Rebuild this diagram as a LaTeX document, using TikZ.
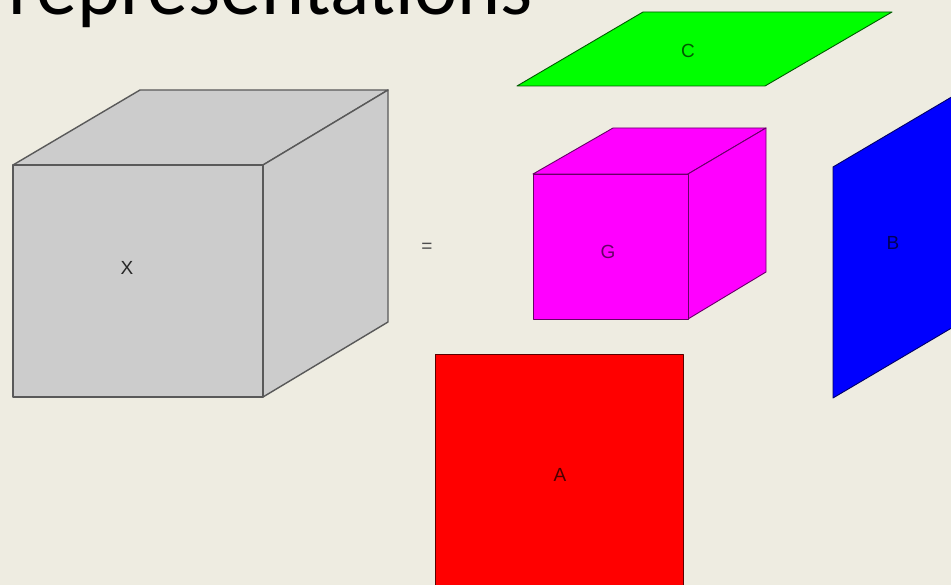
\documentclass[tikz,border=0pt]{standalone}
\usepackage{fontspec}
\setmainfont{Liberation Sans}
\newfontfamily\titlefont{Carlito}
\usetikzlibrary{positioning}

\definecolor{slidebg}{RGB}{238,236,225}
\definecolor{cubegray}{RGB}{204,204,204}
\definecolor{coremag}{RGB}{255,0,255}
\definecolor{factgreen}{RGB}{0,255,0}
\definecolor{factblue}{RGB}{0,0,255}
\definecolor{factred}{RGB}{255,0,0}

\begin{document}
\begin{tikzpicture}[x=1pt, y=-1pt,
    face/.style={line width=1.4pt, line join=round},
    letter/.style={font=\fontsize{19}{22}\selectfont, inner sep=0pt}]
    \fill[slidebg] (0,0) rectangle (951,585);
    \useasboundingbox (0,0) rectangle (951,585);
    \clip (0,0) rectangle (951,585);

    % title, cut at the top edge
    \node [anchor=base east, inner sep=0pt, font=\titlefont\fontsize{82}{90}\selectfont] (title) at (533,15) {representations};

    % tensor X
    \filldraw [face, fill=cubegray, draw=black!65] (13,165) -- (140,90) -- (388,90) -- (263,165) -- cycle;
    \filldraw [face, fill=cubegray, draw=black!65] (263,165) -- (388,90) -- (388,322) -- (263,397) -- cycle;
    \filldraw [face, fill=cubegray, draw=black!65] (13,165) rectangle (263,397);
    \node [letter, text=black!85] (X) at (127,268) {X};

    \node [letter, text=black!70] (eq) at (427,248) {=};

    % core tensor G
    \filldraw [face, fill=coremag, draw=coremag!40!black, line width=0.9pt] (533,174) -- (613,128) -- (766,128) -- (688,174) -- cycle;
    \filldraw [face, fill=coremag, draw=coremag!40!black, line width=0.9pt] (688,174) -- (766,128) -- (766,272) -- (688,319) -- cycle;
    \filldraw [face, fill=coremag, draw=coremag!40!black, line width=0.9pt] (533,174) rectangle (688,319);
    \node [letter, text=coremag!40!black] (G) at (608,252) {G};

    % factor C
    \filldraw [face, fill=factgreen, draw=factgreen!35!black, line width=0.9pt] (517,86) -- (765,86) -- (892,12) -- (643,12) -- cycle;
    \node [letter, text=factgreen!35!black] (C) at (688,51) {C};

    % factor B
    \filldraw [face, fill=factblue, draw=factblue!40!black, line width=0.9pt] (833,167) -- (833,398) -- (955,326) -- (955,95) -- cycle;
    \node [letter, text=factblue!35!black] (B) at (893,243) {B};

    % factor A
    \filldraw [face, fill=factred, draw=factred!35!black, line width=0.9pt] (435,354) rectangle (683,600);
    \node [letter, text=factred!30!black] (A) at (560,475) {A};
\end{tikzpicture}
\end{document}
